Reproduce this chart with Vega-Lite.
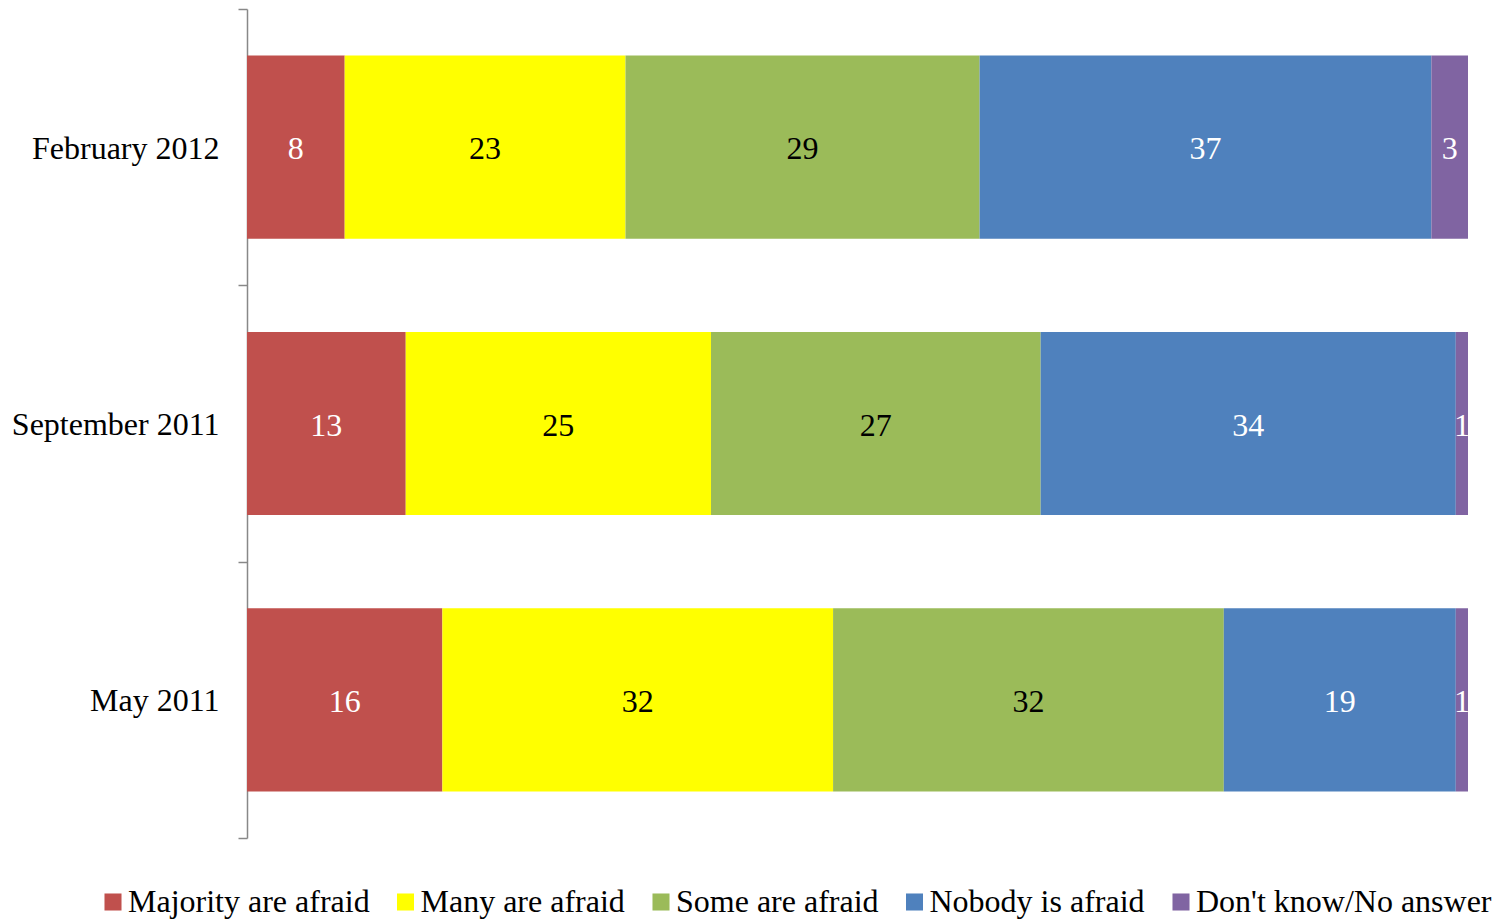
{
  "$schema": "https://vega.github.io/schema/vega-lite/v6.json",
  "width": 1221,
  "height": 829,
  "autosize": {"type": "none"},
  "padding": {"left": 247, "top": 9, "right": 35, "bottom": 83},
  "background": "white",
  "config": {
    "view": {"stroke": null},
    "font": "Liberation Serif"
  },
  "data": {
    "values": [
      {"period": "February 2012", "answer": "Majority are afraid", "k": 1, "value": 8},
      {"period": "February 2012", "answer": "Many are afraid", "k": 2, "value": 23},
      {"period": "February 2012", "answer": "Some are afraid", "k": 3, "value": 29},
      {"period": "February 2012", "answer": "Nobody is afraid", "k": 4, "value": 37},
      {"period": "February 2012", "answer": "Don't know/No answer", "k": 5, "value": 3},
      {"period": "September 2011", "answer": "Majority are afraid", "k": 1, "value": 13},
      {"period": "September 2011", "answer": "Many are afraid", "k": 2, "value": 25},
      {"period": "September 2011", "answer": "Some are afraid", "k": 3, "value": 27},
      {"period": "September 2011", "answer": "Nobody is afraid", "k": 4, "value": 34},
      {"period": "September 2011", "answer": "Don't know/No answer", "k": 5, "value": 1},
      {"period": "May 2011", "answer": "Majority are afraid", "k": 1, "value": 16},
      {"period": "May 2011", "answer": "Many are afraid", "k": 2, "value": 32},
      {"period": "May 2011", "answer": "Some are afraid", "k": 3, "value": 32},
      {"period": "May 2011", "answer": "Nobody is afraid", "k": 4, "value": 19},
      {"period": "May 2011", "answer": "Don't know/No answer", "k": 5, "value": 1}
    ]
  },
  "encoding": {
    "y": {
      "field": "period",
      "type": "nominal",
      "sort": ["February 2012", "September 2011", "May 2011"],
      "scale": {"paddingInner": 0, "paddingOuter": 0},
      "axis": {
        "title": null,
        "domainColor": "#888888",
        "domainWidth": 1.5,
        "tickColor": "#888888",
        "tickWidth": 1.5,
        "tickSize": 9,
        "tickBand": "extent",
        "labelFont": "Liberation Serif",
        "labelFontSize": 32,
        "labelColor": "black",
        "labelPadding": 19,
        "labelOffset": 1,
        "labelLimit": 0
      }
    },
    "order": {"field": "k", "type": "quantitative"}
  },
  "layer": [
    {
      "mark": {"type": "bar", "height": {"band": 0.663}},
      "encoding": {
        "x": {
          "field": "value",
          "type": "quantitative",
          "stack": "zero",
          "scale": {"domain": [0, 100], "nice": false},
          "axis": null
        },
        "color": {
          "field": "answer",
          "type": "nominal",
          "scale": {
            "domain": ["Majority are afraid", "Many are afraid", "Some are afraid", "Nobody is afraid", "Don't know/No answer"],
            "range": ["#C0504D", "#FFFF00", "#9BBB59", "#4F81BD", "#8064A2"]
          },
          "legend": {
            "title": null,
            "orient": "none",
            "direction": "horizontal",
            "legendX": -150,
            "legendY": 877,
            "symbolType": "square",
            "symbolSize": 290,
            "symbolStrokeWidth": 0,
            "symbolOpacity": 1,
            "labelFont": "Liberation Serif",
            "labelFontSize": 32,
            "labelColor": "black",
            "labelOffset": -1,
            "columnPadding": 19.5,
            "labelLimit": 0
          }
        }
      }
    },
    {
      "mark": {"type": "text", "font": "Liberation Serif", "fontSize": 32, "baseline": "middle", "align": "center", "dy": 2},
      "encoding": {
        "x": {"field": "value", "type": "quantitative", "stack": "zero", "bandPosition": 0.5},
        "text": {"field": "value", "type": "quantitative"},
        "color": {
          "condition": {"test": "datum.answer === 'Many are afraid' || datum.answer === 'Some are afraid'", "value": "black"},
          "value": "white"
        }
      }
    }
  ]
}
